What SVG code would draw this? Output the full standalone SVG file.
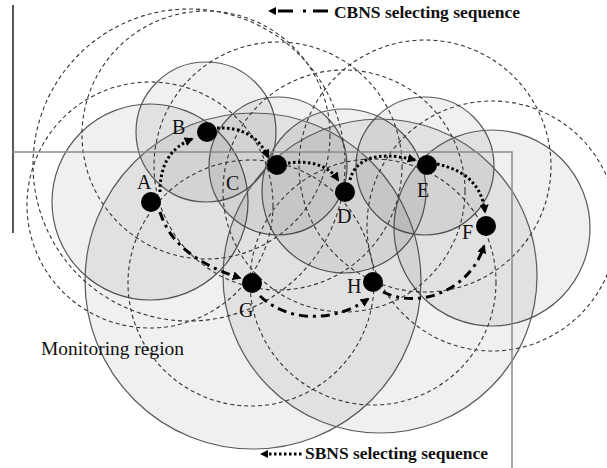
<svg xmlns="http://www.w3.org/2000/svg" width="607" height="468" viewBox="0 0 607 468">
<style>
.cov{fill:#000;fill-opacity:0.06;stroke:#5a5a5a;stroke-width:1.2}
.com{fill:none;stroke:#333;stroke-width:1.1;stroke-dasharray:4 3}
.frame{fill:none;stroke:#8a8a8a;stroke-width:1.5}
.sb{fill:none;stroke:#000;stroke-width:3;stroke-dasharray:2.5 2.5}
.cb{fill:none;stroke:#000;stroke-width:3;stroke-dasharray:9 5 3 5}
.node{fill:#000}
.lbl{font-family:"Liberation Serif",serif;font-size:20px;fill:#111}
.leg{font-family:"Liberation Serif",serif;font-size:17.5px;font-weight:bold;fill:#111}
.reg{font-family:"Liberation Serif",serif;font-size:19px;fill:#111}
</style>
<defs>
<marker id="ah" viewBox="0 0 10 10" refX="8" refY="5" markerWidth="9" markerHeight="9" markerUnits="userSpaceOnUse" orient="auto">
<path d="M0,0 L10,5 L0,10 Z" fill="#000"/>
</marker>
</defs>
<rect width="607" height="468" fill="#fff"/>
<g id="coverage">
<circle class="cov" cx="150" cy="202" r="98"/>
<circle class="cov" cx="206" cy="132" r="70"/>
<circle class="cov" cx="278" cy="166" r="69"/>
<circle class="cov" cx="344" cy="191" r="82"/>
<circle class="cov" cx="425" cy="166" r="69"/>
<circle class="cov" cx="492" cy="228" r="98"/>
<circle class="cov" cx="253" cy="281" r="168"/>
<circle class="cov" cx="380" cy="276" r="157"/>
</g>
<g id="comm">
<circle class="com" cx="189" cy="165" r="156"/>
<circle class="com" cx="150" cy="205" r="123"/>
<circle class="com" cx="206" cy="135" r="124"/>
<circle class="com" cx="278" cy="166" r="124"/>
<circle class="com" cx="344" cy="191" r="121"/>
<circle class="com" cx="425" cy="166" r="126"/>
<circle class="com" cx="492" cy="226" r="125"/>
<circle class="com" cx="251" cy="283" r="123"/>
<circle class="com" cx="373" cy="282" r="123"/>
</g>
<g id="frame">
<line x1="13" y1="5" x2="13" y2="233" stroke="#222" stroke-width="1.5"/>
<polyline class="frame" points="12,152 512,152 512,468"/>
</g>
<g id="connectors">
<path class="sb" d="M160,192 C160,165 170,148 192,139" marker-end="url(#ah)"/>
<path class="sb" d="M217,128 C240,127 258,135 268,157" marker-end="url(#ah)"/>
<path class="sb" d="M288,163 C310,160 328,165 338,180" marker-end="url(#ah)"/>
<path class="sb" d="M350,180 C355,160 375,150 415,160" marker-end="url(#ah)"/>
<path class="sb" d="M437,164 C465,170 482,185 485,212" marker-end="url(#ah)"/>
<path class="cb" d="M160,212 C170,245 200,265 240,278" marker-end="url(#ah)"/>
<path class="cb" d="M260,296 C285,320 330,325 368,299" marker-end="url(#ah)"/>
<path class="cb" d="M383,292 C420,310 470,290 484,246" marker-end="url(#ah)"/>
</g>
<g id="nA"><circle class="node" cx="151" cy="202" r="10"/><text class="lbl" x="137" y="189">A</text></g>
<g id="nB"><circle class="node" cx="207" cy="132" r="10"/><text class="lbl" x="172" y="134">B</text></g>
<g id="nC"><circle class="node" cx="277" cy="165" r="10"/><text class="lbl" x="226" y="190">C</text></g>
<g id="nD"><circle class="node" cx="345" cy="192" r="10"/><text class="lbl" x="337" y="223">D</text></g>
<g id="nE"><circle class="node" cx="427" cy="165" r="10"/><text class="lbl" x="417" y="197">E</text></g>
<g id="nF"><circle class="node" cx="486" cy="226" r="10"/><text class="lbl" x="462" y="239">F</text></g>
<g id="nG"><circle class="node" cx="252" cy="283" r="10"/><text class="lbl" x="239" y="317">G</text></g>
<g id="nH"><circle class="node" cx="373" cy="282" r="10"/><text class="lbl" x="347" y="293">H</text></g>
<g id="legend">
<path d="M268,11 L276,7 L276,15 Z" fill="#000"/>
<path d="M278,11 L328,11" stroke="#000" stroke-width="3" fill="none" stroke-dasharray="15 10 3 7 15"/>
<text class="leg" x="334" y="18" textLength="186" lengthAdjust="spacingAndGlyphs">CBNS selecting sequence</text>
<path d="M260,454 L268,450 L268,458 Z" fill="#000"/>
<path d="M269,454 L302,454" stroke="#000" stroke-width="3" fill="none" stroke-dasharray="2.5 2.5"/>
<text class="leg" x="305" y="459" textLength="183" lengthAdjust="spacingAndGlyphs">SBNS selecting sequence</text>
<text class="reg" x="41" y="355" textLength="143" lengthAdjust="spacingAndGlyphs">Monitoring region</text>
</g>
</svg>
